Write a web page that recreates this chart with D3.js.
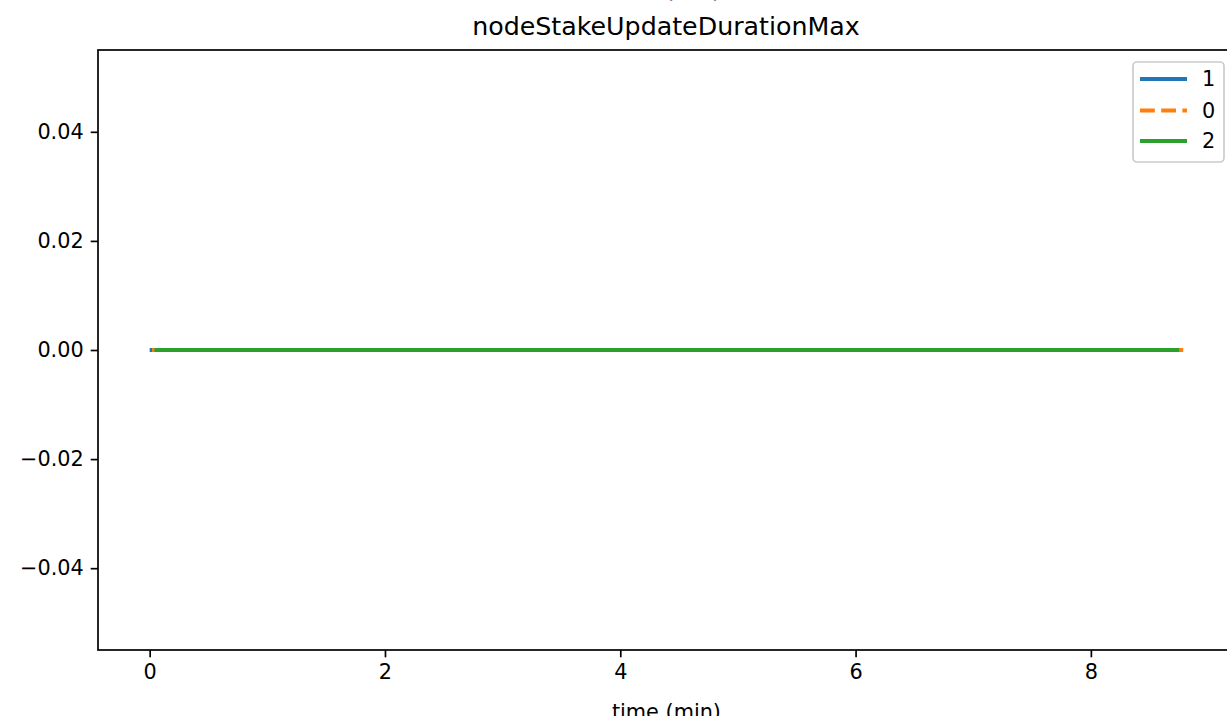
<!DOCTYPE html>
<html>
<head>
<meta charset="utf-8">
<script src="https://cdn.jsdelivr.net/npm/d3@7"></script>
<style>
  html, body { margin: 0; padding: 0; background: #fff; }
  svg { display: block; }
  text { font-family: "DejaVu Sans", sans-serif; }
</style>
</head>
<body>
<svg id="chart" width="1227" height="716"></svg>
<script>
// ---- data ----
const seriesNames = ["1", "0", "2"];
const seriesColors = ["#1f77b4", "#ff7f0e", "#2ca02c"];
const seriesDash = [null, "14.8,6.4", null];

const time1 = [0.00, 0.50, 1.00, 1.50, 2.00, 2.50, 3.00, 3.50, 4.00, 4.50, 5.00, 5.50, 6.00, 6.50, 7.00, 7.50, 8.00, 8.50, 8.72];
const value1 = [0, 0, 0, 0, 0, 0, 0, 0, 0, 0, 0, 0, 0, 0, 0, 0, 0, 0, 0];

const time0 = [0.02, 0.52, 1.02, 1.52, 2.02, 2.52, 3.02, 3.52, 4.02, 4.52, 5.02, 5.52, 6.02, 6.52, 7.02, 7.52, 8.02, 8.52, 8.785];
const value0 = [0, 0, 0, 0, 0, 0, 0, 0, 0, 0, 0, 0, 0, 0, 0, 0, 0, 0, 0];

const time2 = [0.04, 0.54, 1.04, 1.54, 2.04, 2.54, 3.04, 3.54, 4.04, 4.54, 5.04, 5.54, 6.04, 6.54, 7.04, 7.54, 8.04, 8.54, 8.75];
const value2 = [0, 0, 0, 0, 0, 0, 0, 0, 0, 0, 0, 0, 0, 0, 0, 0, 0, 0, 0];

const xTicks = [0, 2, 4, 6, 8];
const yTicks = [-0.04, -0.02, 0.00, 0.02, 0.04];
const yLimits = [-0.055, 0.055];

const titleText = "nodeStakeUpdateDurationMax";
const supTitleText = "(ms)";
const xLabelText = "time (min)";

// ---- layout ----
(function () {
const FS = 20.8;
const mLeft = 98, mTop = 50, mBottom = 650;
const allTimes = time1.concat(time0, time2);
const tMin = d3.min(allTimes), tMax = d3.max(allTimes);
const pad = (tMax - tMin) * 0.05;
const xDomain = [tMin - pad, tMax + pad];
const pxPerMin = 117.65;
const mRight = mLeft + (xDomain[1] - xDomain[0]) * pxPerMin;

const svg = d3.select("#chart");

const x = d3.scaleLinear().domain(xDomain).range([mLeft, mRight]);
const y = d3.scaleLinear().domain(yLimits).range([mBottom, mTop]);

const series = [
  { t: time1, v: value1 },
  { t: time0, v: value0 },
  { t: time2, v: value2 }
];

const line = d3.line().x(d => x(d[0])).y(d => y(d[1]));

const plot = svg.append("g");
series.forEach((s, i) => {
  const pts = s.t.map((t, j) => [t, s.v[j]]);
  const p = plot.append("path")
    .attr("d", line(pts))
    .attr("fill", "none")
    .attr("stroke", seriesColors[i])
    .attr("stroke-width", 4)
    .attr("stroke-linecap", "butt")
    .attr("stroke-linejoin", "round");
  if (seriesDash[i]) p.attr("stroke-dasharray", seriesDash[i]);
});

const xAxis = d3.axisBottom(x).tickValues(xTicks).tickFormat(d3.format("d"))
  .tickSizeInner(7.3).tickSizeOuter(0).tickPadding(7);
const yAxis = d3.axisLeft(y).tickValues(yTicks).tickFormat(d3.format(".2f"))
  .tickSizeInner(7.3).tickSizeOuter(0).tickPadding(7);

const gx = svg.append("g").attr("transform", `translate(0,${mBottom})`).call(xAxis);
const gy = svg.append("g").attr("transform", `translate(${mLeft},0)`).call(yAxis);
[gx, gy].forEach(g => {
  g.select(".domain").remove();
  g.selectAll(".tick line").attr("stroke", "#000").attr("stroke-width", 1.7);
  g.selectAll(".tick text").attr("fill", "#000")
    .style("font-family", "'DejaVu Sans', sans-serif").style("font-size", FS + "px");
});

svg.append("rect")
  .attr("x", mLeft).attr("y", mTop)
  .attr("width", mRight - mLeft).attr("height", mBottom - mTop)
  .attr("fill", "none").attr("stroke", "#000").attr("stroke-width", 1.7);

svg.append("text").attr("x", 666).attr("y", 35)
  .attr("text-anchor", "middle").style("font-size", "25.3px").attr("fill", "#000")
  .text(titleText);
svg.append("text").attr("x", 693).attr("y", -3)
  .attr("text-anchor", "middle").style("font-size", "25px").attr("fill", "#000")
  .text(supTitleText);
svg.append("text").attr("x", (mLeft + mRight) / 2).attr("y", 719)
  .attr("text-anchor", "middle").style("font-size", FS + "px").attr("fill", "#000")
  .text(xLabelText);

const lg = svg.append("g");
lg.append("rect")
  .attr("x", 1133).attr("y", 62).attr("width", 91).attr("height", 100)
  .attr("rx", 4).attr("ry", 4)
  .attr("fill", "#fff").attr("fill-opacity", 0.8)
  .attr("stroke", "#cccccc").attr("stroke-width", 1.7);
const rowY = [79, 110.5, 141];
seriesNames.forEach((name, i) => {
  const l = lg.append("line")
    .attr("x1", 1140).attr("x2", 1187)
    .attr("y1", rowY[i]).attr("y2", rowY[i])
    .attr("stroke", seriesColors[i]).attr("stroke-width", 4);
  if (seriesDash[i]) l.attr("stroke-dasharray", seriesDash[i]);
  lg.append("text").attr("x", 1202).attr("y", rowY[i])
    .attr("dy", "0.36em").style("font-size", FS + "px").attr("fill", "#000")
    .text(name);
});
})();
</script>
</body>
</html>
